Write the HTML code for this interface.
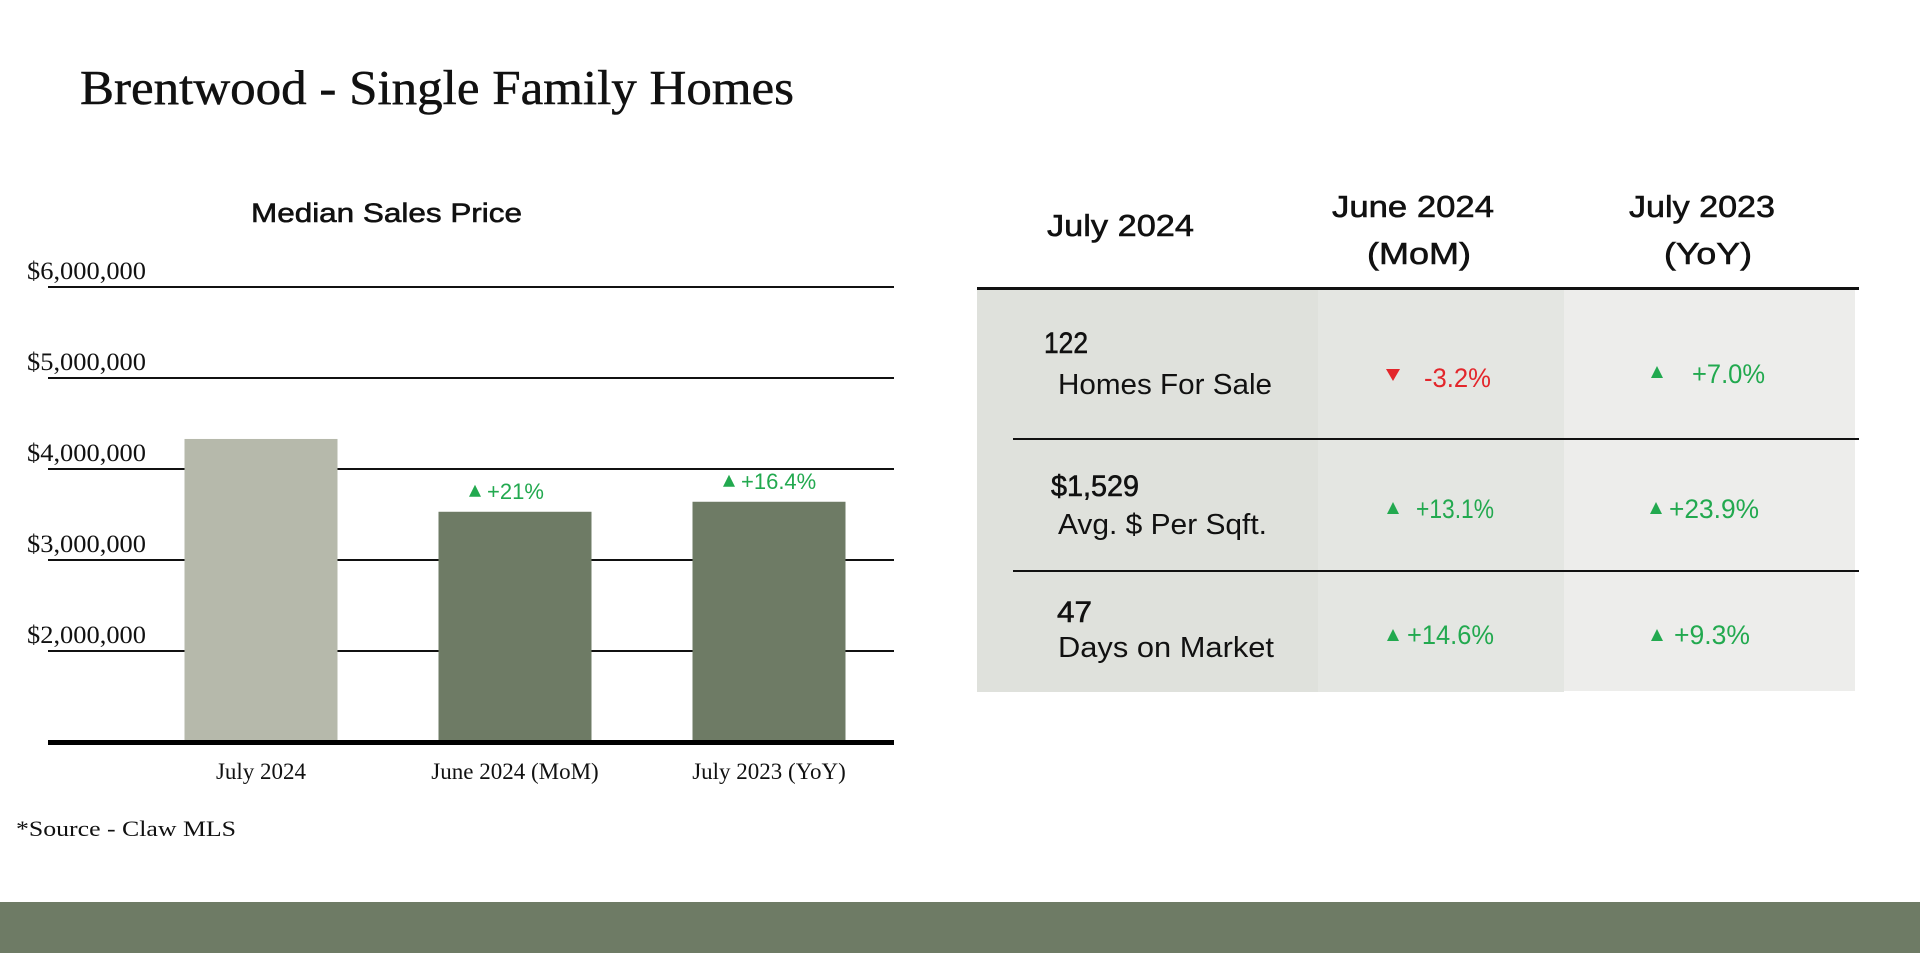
<!DOCTYPE html>
<html><head><meta charset="utf-8"><style>
html,body{margin:0;padding:0;background:#fff;width:1920px;height:953px;overflow:hidden}
svg{display:block}
.serif{font-family:"Liberation Serif",serif;fill:#111}
.sans{font-family:"Liberation Sans",sans-serif;fill:#111}
.st{stroke:#111;stroke-width:0.6px}
</style></head><body>
<svg id="page" width="1920" height="953" viewBox="0 0 1920 953">
<text class="serif" x="80" y="104" font-size="49" textLength="714" lengthAdjust="spacingAndGlyphs" style="stroke:#111;stroke-width:0.5px">Brentwood - Single Family Homes</text>
<text class="sans st" x="251" y="222" font-size="27" textLength="271" lengthAdjust="spacingAndGlyphs">Median Sales Price</text>
<g id="chart"></g>
<text class="serif" x="16" y="836" font-size="22" textLength="220" lengthAdjust="spacingAndGlyphs">*Source - Claw MLS</text>
<rect x="0" y="902" width="1920" height="51" fill="#6e7b65"/>

<g>
<rect x="977" y="289" width="341" height="403" fill="#dfe1dc"/>
<rect x="1318" y="289" width="246" height="403" fill="#e4e6e2"/>
<rect x="1564" y="289" width="291" height="402" fill="#ededeb"/>
<rect x="977" y="287" width="882" height="3" fill="#111"/>
<rect x="1013" y="438" width="846" height="2" fill="#111"/>
<rect x="1013" y="570" width="846" height="2" fill="#111"/>
<text class="sans st" x="1047" y="236" font-size="31" textLength="147" lengthAdjust="spacingAndGlyphs">July 2024</text>
<text class="sans st" x="1332" y="217" font-size="31" textLength="162" lengthAdjust="spacingAndGlyphs">June 2024</text>
<text class="sans st" x="1367" y="264" font-size="31" textLength="104" lengthAdjust="spacingAndGlyphs">(MoM)</text>
<text class="sans st" x="1629" y="217" font-size="31" textLength="146" lengthAdjust="spacingAndGlyphs">July 2023</text>
<text class="sans st" x="1664" y="264" font-size="31" textLength="88" lengthAdjust="spacingAndGlyphs">(YoY)</text>

<text class="sans st" x="1044" y="353" font-size="30" textLength="44" lengthAdjust="spacingAndGlyphs">122</text>
<text class="sans" x="1058" y="394" font-size="29" textLength="214" lengthAdjust="spacingAndGlyphs">Homes For Sale</text>
<text class="sans st" x="1051" y="496" font-size="30" textLength="88" lengthAdjust="spacingAndGlyphs">$1,529</text>
<text class="sans" x="1058" y="534" font-size="29" textLength="209" lengthAdjust="spacingAndGlyphs">Avg. $ Per Sqft.</text>
<text class="sans st" x="1057" y="622" font-size="30" textLength="35" lengthAdjust="spacingAndGlyphs">47</text>
<text class="sans" x="1058" y="657" font-size="29" textLength="216" lengthAdjust="spacingAndGlyphs">Days on Market</text>

<polygon points="1386,369 1400,369 1393,381" fill="#e3262b"/>
<text class="sans" x="1424" y="387" font-size="27" style="fill:#e3262b" textLength="67" lengthAdjust="spacingAndGlyphs">-3.2%</text>
<polygon points="1651,378 1663,378 1657,366" fill="#22a94f"/>
<text class="sans" x="1692" y="383" font-size="27" style="fill:#22a94f" textLength="73" lengthAdjust="spacingAndGlyphs">+7.0%</text>
<polygon points="1387,514 1399,514 1393,502" fill="#22a94f"/>
<text class="sans" x="1416" y="518" font-size="27" style="fill:#22a94f" textLength="78" lengthAdjust="spacingAndGlyphs">+13.1%</text>
<polygon points="1650,514 1662,514 1656,502" fill="#22a94f"/>
<text class="sans" x="1669" y="518" font-size="27" style="fill:#22a94f" textLength="90" lengthAdjust="spacingAndGlyphs">+23.9%</text>
<polygon points="1387,641 1399,641 1393,629" fill="#22a94f"/>
<text class="sans" x="1407" y="644" font-size="27" style="fill:#22a94f" textLength="87" lengthAdjust="spacingAndGlyphs">+14.6%</text>
<polygon points="1651,641 1663,641 1657,629" fill="#22a94f"/>
<text class="sans" x="1674" y="644" font-size="27" style="fill:#22a94f" textLength="76" lengthAdjust="spacingAndGlyphs">+9.3%</text>
</g>
</svg>
<script>
const categories = ["July 2024", "June 2024 (MoM)", "July 2023 (YoY)"];
const values = [4330000, 3530000, 3640000];
const changeLabels = ["", "+21%", "+16.4%"];
const tickValues = [2000000, 3000000, 4000000, 5000000, 6000000];
const tickLabels = ["$2,000,000", "$3,000,000", "$4,000,000", "$5,000,000", "$6,000,000"];

const NS = "http://www.w3.org/2000/svg";
const g = document.getElementById('chart');
const yMin = 1000000, yMax = 6000000, yTop = 287, yBot = 742;
const plotL = 48, plotR = 894;
function y(v){ return yBot - (v - yMin) / (yMax - yMin) * (yBot - yTop); }
const barW = 153, slot0 = 261, slotStep = 254;
function xc(i){ return slot0 + i * slotStep; }
function mk(tag, attrs){ const e = document.createElementNS(NS, tag); for (const k in attrs) e.setAttribute(k, attrs[k]); g.appendChild(e); return e; }

tickValues.forEach((v, i) => {
  const ln = mk('rect', {x: plotL, y: y(v) - 1, width: plotR - plotL, height: 2, fill: '#111'});
  
  
  const t = mk('text', {x: 27, y: y(v) - 8, 'font-size': 25, class: 'serif', textLength: 119, lengthAdjust: 'spacingAndGlyphs'});
  t.textContent = tickLabels[i];
  
  
});

values.forEach((v, i) => {
  const b = mk('rect', {x: xc(i) - barW / 2, y: y(v), width: barW, height: yBot - y(v), fill: i === 0 ? '#b6b9ab' : '#6e7b65'});
  
  
  const lab = mk('text', {x: xc(i), y: 779, 'font-size': 23, class: 'serif', 'text-anchor': 'middle'});
  lab.textContent = categories[i];
  
  
  if (changeLabels[i]) {
    const top = y(v);
    const cx = xc(i) - 40;
    const tri = mk('polygon', {points: `${cx-6},${top-15} ${cx+6},${top-15} ${cx},${top-27}`, fill: '#22a94f'});
    
    
    const ct = mk('text', {x: cx + 12, y: top - 13, 'font-size': 22, class: 'sans', style: 'fill:#22a94f'});
    ct.textContent = changeLabels[i];
    
    
  }
});
const base = mk('rect', {x: plotL, y: yBot - 2, width: plotR - plotL, height: 5, fill: '#000'});


</script>
</body></html>
